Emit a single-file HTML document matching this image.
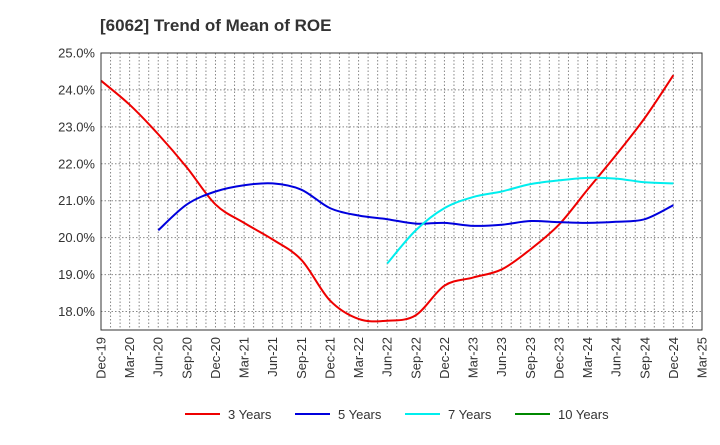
<!DOCTYPE html>
<html><head><meta charset="utf-8"><style>
body{margin:0;background:#fff;font-family:"Liberation Sans",sans-serif}
</style></head><body>
<svg id="c" width="720" height="440" xmlns="http://www.w3.org/2000/svg">
<text x="100" y="31" font-size="17" font-weight="bold" fill="#333">[6062]  Trend of Mean of ROE</text>
<g id="grid"></g><g id="series"></g><g id="axes"></g><g id="legend"></g>
</svg>
<script>
const xLabels=["Dec-19","Mar-20","Jun-20","Sep-20","Dec-20","Mar-21","Jun-21","Sep-21","Dec-21","Mar-22","Jun-22","Sep-22","Dec-22","Mar-23","Jun-23","Sep-23","Dec-23","Mar-24","Jun-24","Sep-24","Dec-24","Mar-25"];
const yTicks=[18,19,20,21,22,23,24,25];
const s3=[24.25,23.6,22.8,21.9,20.9,20.4,19.95,19.4,18.3,17.8,17.75,17.9,18.7,18.92,19.14,19.68,20.35,21.3,22.24,23.24,24.4];
const s5=[null,null,20.2,20.9,21.25,21.42,21.47,21.3,20.8,20.6,20.5,20.38,20.4,20.32,20.35,20.45,20.42,20.4,20.43,20.5,20.88];
const s7=[null,null,null,null,null,null,null,null,null,null,19.3,20.2,20.8,21.1,21.25,21.45,21.55,21.62,21.6,21.5,21.47];
const s10=[];
const NS="http://www.w3.org/2000/svg";
const L=101,R=702,T=53,B=330,yMin=17.5,yMax=25;
const xs=i=>L+(R-L)*i/21;
const ys=v=>B-(v-yMin)/(yMax-yMin)*(B-T);
function mk(t,a,p){const e=document.createElementNS(NS,t);for(const k in a)e.setAttribute(k,a[k]);p.appendChild(e);return e;}
const g=document.getElementById('grid'),ax=document.getElementById('axes'),se=document.getElementById('series'),lg=document.getElementById('legend');
for(let m=1;m<63;m++){const x=L+(R-L)*m/63;const l=mk('line',{x1:x,x2:x,y1:T,y2:B,stroke:'#888','stroke-dasharray':'1.5,2','stroke-width':1},g);
}
yTicks.forEach(v=>{const y=ys(v);const l=mk('line',{x1:L,x2:R,y1:y,y2:y,stroke:'#888','stroke-dasharray':'1.5,2'},g);

const t=mk('text',{x:L-6,y:y+4.5,'text-anchor':'end','font-size':13,fill:'#333'},ax);t.textContent=v.toFixed(1)+'%';
});
xLabels.forEach((s,i)=>{const x=xs(i);const t=mk('text',{transform:`translate(${x+4.5},${B+7}) rotate(-90)`,'text-anchor':'end','font-size':13,fill:'#333'},ax);t.textContent=s;
});
const fr=mk('rect',{x:L,y:T,width:R-L,height:B-T,fill:'none',stroke:'#333'},ax);

function path(arr){const p=[];arr.forEach((v,i)=>{if(v!=null)p.push([xs(i),ys(v)]);});if(p.length<2)return '';
let d=`M${p[0][0]},${p[0][1]}`;for(let i=0;i<p.length-1;i++){const p0=p[i-1]||p[i],p1=p[i],p2=p[i+1],p3=p[i+2]||p2;
d+=`C${p1[0]+(p2[0]-p0[0])/6},${p1[1]+(p2[1]-p0[1])/6} ${p2[0]-(p3[0]-p1[0])/6},${p2[1]-(p3[1]-p1[1])/6} ${p2[0]},${p2[1]}`;}return d;}
const series=[[s3,'#e00','3 Years','line-3-years'],[s5,'#00d','5 Years','line-5-years'],[s7,'#0ee','7 Years','line-7-years'],[s10,'#080','10 Years','line-10-years']];
const lx=[185,295,405,515];
series.forEach(([a,c,n,dn],k)=>{const d=path(a);if(d){const e=mk('path',{d,fill:'none',stroke:c,'stroke-width':2},se);
}
const l=mk('line',{x1:lx[k],x2:lx[k]+35,y1:414,y2:414,stroke:c,'stroke-width':2},lg);

const t=mk('text',{x:lx[k]+43,y:419,'font-size':13,fill:'#333'},lg);t.textContent=n;
});
</script>
</body></html>
